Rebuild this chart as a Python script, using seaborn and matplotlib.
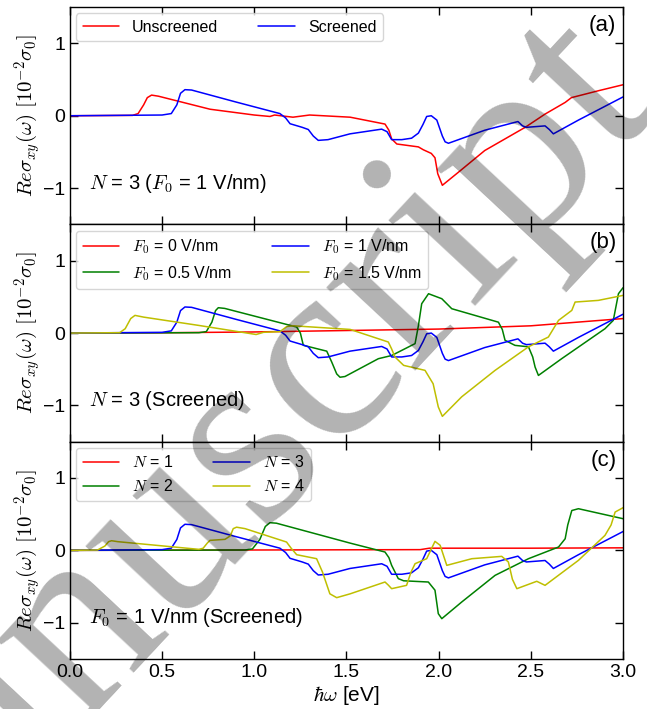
import numpy as np
import matplotlib
matplotlib.use("Agg")
import matplotlib.pyplot as plt
import seaborn as sns

# ---- data (x in eV, y in 1e-2 sigma0) ----
# N = 3, F0 = 1 V/nm, screened (used in all three panels)
blue_x = [0, 0.50, 0.55, 0.58, 0.60, 0.624, 0.66, 0.90, 1.139, 1.17, 1.194, 1.26, 1.293, 1.32, 1.347,
          1.40, 1.519, 1.691, 1.72, 1.745, 1.80, 1.853, 1.89, 1.915, 1.935, 1.96, 1.99, 2.02, 2.035,
          2.053, 2.25, 2.43, 2.455, 2.476, 2.577, 2.60, 2.622, 2.758, 3.0]
blue_y = [0, 0.01, 0.03, 0.15, 0.31, 0.36, 0.355, 0.19, 0.03, -0.03, -0.11, -0.16, -0.19, -0.28, -0.34,
          -0.33, -0.25, -0.185, -0.22, -0.33, -0.33, -0.31, -0.24, -0.12, -0.01, 0.0, -0.06, -0.28, -0.36,
          -0.38, -0.20, -0.08, -0.14, -0.16, -0.14, -0.19, -0.25, -0.06, 0.26]

# N = 3, F0 = 1 V/nm, unscreened
red_x = [0, 0.34, 0.37, 0.40, 0.42, 0.443, 0.48, 0.76, 1.0, 1.085, 1.11, 1.21, 1.30, 1.52, 1.709, 1.73,
         1.745, 1.773, 1.89, 1.917, 1.96, 1.98, 1.995, 2.02, 2.107, 2.25, 2.469, 2.577, 2.686, 2.72,
         2.866, 3.0]
red_y = [0, 0.005, 0.03, 0.15, 0.25, 0.285, 0.27, 0.09, 0.01, -0.01, 0.01, -0.02, 0.01, -0.02, -0.115,
         -0.2, -0.32, -0.39, -0.43, -0.47, -0.52, -0.58, -0.80, -0.96, -0.78, -0.48, -0.16, 0.023, 0.184,
         0.25, 0.345, 0.428]

# N = 3 screened, other fields
f0_x = [0, 0.5, 1.0, 1.5, 2.0, 2.5, 2.75, 3.0]
f0_y = [0, 0.004, 0.015, 0.035, 0.055, 0.10, 0.15, 0.20]

f05_x = [0, 0.70, 0.74, 0.77, 0.79, 0.805, 0.84, 1.23, 1.25, 1.266, 1.393, 1.42, 1.447, 1.465, 1.492,
         1.673, 1.745, 1.872, 1.89, 1.908, 1.945, 2.017, 2.071, 2.324, 2.345, 2.36, 2.414, 2.487, 2.51,
         2.523, 2.541, 2.667, 2.902, 2.947, 2.975, 3.0]
f05_y = [0, 0.005, 0.02, 0.15, 0.31, 0.35, 0.34, 0.083, 0.0, -0.169, -0.25, -0.40, -0.564, -0.61, -0.60,
         -0.354, -0.31, -0.146, 0.10, 0.405, 0.543, 0.474, 0.336, 0.15, 0.05, -0.10, -0.17, -0.19, -0.33,
         -0.47, -0.585, -0.354, 0.06, 0.175, 0.543, 0.626]

f15_x = [0, 0.27, 0.30, 0.33, 0.353, 0.40, 0.70, 1.01, 1.05, 1.14, 1.176, 1.212, 1.52, 1.727, 1.745,
         1.763, 1.81, 1.926, 1.97, 1.998, 2.02, 2.125, 2.306, 2.487, 2.595, 2.65, 2.722, 2.74, 2.866, 3.0]
f15_y = [0, 0.005, 0.06, 0.20, 0.244, 0.22, 0.105, -0.02, 0.01, 0.02, 0.09, 0.10, 0.05, -0.124, -0.22,
         -0.33, -0.446, -0.515, -0.70, -1.02, -1.15, -0.88, -0.515, -0.19, -0.055, 0.175, 0.313, 0.428,
         0.451, 0.52]

# F0 = 1 V/nm screened, other N
n1_x = [0, 1.0, 1.9, 1.95, 2.5, 3.0]
n1_y = [0, 0.005, 0.01, 0.03, 0.03, 0.035]

n2_x = [0, 0.95, 0.99, 1.03, 1.06, 1.085, 1.12, 1.52, 1.709, 1.73, 1.745, 1.781, 1.81, 1.944, 1.98,
        1.998, 2.017, 2.125, 2.306, 2.487, 2.65, 2.686, 2.70, 2.722, 2.758, 3.0]
n2_y = [0, 0.005, 0.02, 0.15, 0.33, 0.382, 0.375, 0.10, -0.023, -0.10, -0.207, -0.39, -0.42, -0.437,
        -0.55, -0.874, -0.943, -0.713, -0.345, -0.115, 0.046, 0.16, 0.35, 0.55, 0.575, 0.437]

n4_x = [0, 0.15, 0.19, 0.21, 0.226, 0.26, 0.70, 0.723, 0.745, 0.76, 0.841, 0.87, 0.886, 0.904, 0.95,
        1.175, 1.20, 1.23, 1.338, 1.37, 1.41, 1.447, 1.52, 1.709, 1.727, 1.745, 1.826, 1.85, 1.872,
        1.935, 1.98, 2.008, 2.03, 2.044, 2.18, 2.342, 2.378, 2.40, 2.424, 2.532, 2.577, 2.758, 2.902,
        2.935, 2.957, 3.0]
n4_y = [0, 0.005, 0.06, 0.12, 0.133, 0.12, 0.014, 0.03, 0.10, 0.138, 0.152, 0.20, 0.30, 0.32, 0.30,
        0.115, 0.03, -0.06, -0.115, -0.30, -0.60, -0.653, -0.60, -0.437, -0.48, -0.529, -0.483, -0.30,
        -0.184, -0.115, 0.124, 0.07, -0.10, -0.207, -0.115, -0.083, -0.16, -0.40, -0.529, -0.427,
        -0.483, -0.138, 0.207, 0.35, 0.529, 0.589]

panel_tags = ["(a)", "(b)", "(c)"]
panel_notes = [r"$N$ = 3 ($F_0$ = 1 V/nm)", r"$N$ = 3 (Screened)", r"$F_0$ = 1 V/nm (Screened)"]
x_ticklabels = ["0.0", "0.5", "1.0", "1.5", "2.0", "2.5", "3.0"]

sns.set_style("ticks")
plt.rcParams["font.family"] = ["Liberation Sans", "DejaVu Sans"]
plt.rcParams["mathtext.fontset"] = "cm"
for k in ["text.color", "axes.labelcolor", "xtick.color", "ytick.color", "axes.edgecolor"]:
    plt.rcParams[k] = "black"

fig, axes = plt.subplots(3, 1, figsize=(6.47, 7.09), dpi=100, sharex=True)
fig.subplots_adjust(left=0.108, right=0.963, top=0.99, bottom=0.0705, hspace=0)

lw = 1.1
series = [
    [(red_x, red_y, "r", "Unscreened"), (blue_x, blue_y, "b", "Screened")],
    [(f0_x, f0_y, "r", r"$F_0$ = 0 V/nm"), (f05_x, f05_y, "g", r"$F_0$ = 0.5 V/nm"),
     (blue_x, blue_y, "b", r"$F_0$ = 1 V/nm"), (f15_x, f15_y, "y", r"$F_0$ = 1.5 V/nm")],
    [(n1_x, n1_y, "r", r"$N$ = 1"), (n2_x, n2_y, "g", r"$N$ = 2"),
     (blue_x, blue_y, "b", r"$N$ = 3"), (n4_x, n4_y, "y", r"$N$ = 4")],
]

for ax, group, tag, note in zip(axes, series, panel_tags, panel_notes):
    for xs, ys, c, lab in group:
        sns.lineplot(x=xs, y=ys, color=c, label=lab, lw=lw, ax=ax, estimator=None)
    ax.set_xlim(0, 3.0)
    ax.set_ylim(-1.5, 1.5)
    ax.set_yticks([-1, 0, 1])
    ax.set_xticks(np.arange(0, 3.01, 0.5))
    ax.tick_params(direction="in", top=True, right=True, length=6, width=1, labelsize=14)
    for s in ax.spines.values():
        s.set_linewidth(1)
    ax.set_ylabel(r"$Re\sigma_{xy}(\omega)\ [10^{-2}\sigma_0]$", fontsize=15, labelpad=0)
    ax.legend(loc="upper left", ncol=2, fontsize=11.5, handlelength=2.3, columnspacing=2.5,
              borderaxespad=0.4)
    ax.text(0.035, 0.19, note, transform=ax.transAxes, fontsize=14.5, va="center", ha="left")
    ax.text(0.988, 0.915, tag, transform=ax.transAxes, fontsize=16, va="center", ha="right")

axes[-1].set_xticklabels(x_ticklabels)
axes[-1].set_xlabel(r"$\hbar\omega$ [eV]", fontsize=15, labelpad=2)

# watermark
fig.text(0.315, 0.30, "Manuscript", fontsize=190, family="Liberation Serif", color="black",
         alpha=0.3, rotation=47, ha="center", va="center", zorder=100)

fig.savefig("out.png", dpi=100)
